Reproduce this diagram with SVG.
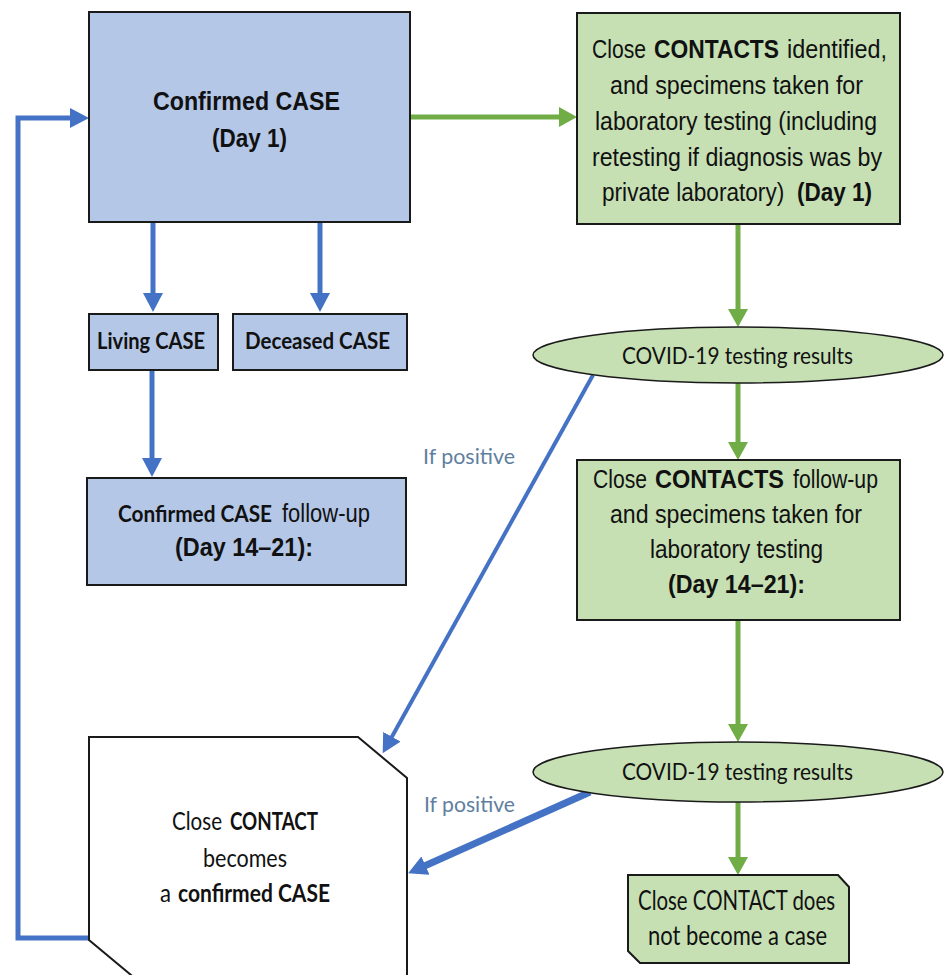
<svg xmlns="http://www.w3.org/2000/svg" width="944" height="975" viewBox="0 0 944 975">
<style>
.bbox{fill:#b4c7e7;stroke:#1a1a1a;stroke-width:2}
.gbox{fill:#c6e0b4;stroke:#1a1a1a;stroke-width:2}
.wbox{fill:#ffffff;stroke:#1a1a1a;stroke-width:2}
.ar{font-family:"Liberation Sans",Arial,sans-serif;font-size:26px;fill:#111}
.arb{font-family:"Liberation Sans",Arial,sans-serif;font-size:26px;font-weight:bold;fill:#111}
.ca{font-family:Lato,"Open Sans",sans-serif;font-size:25px;fill:#111}
.cab{font-family:Lato,"Open Sans",sans-serif;font-size:25px;font-weight:bold;fill:#111}
.lbl{font-family:Lato,"Open Sans",sans-serif;font-size:21px;fill:#5f7f9f}
.blue{fill:none;stroke:#4472c4;stroke-width:5}
.green{fill:none;stroke:#70ad47;stroke-width:5}
</style>
<defs>
<marker id="ab" markerUnits="userSpaceOnUse" markerWidth="20" markerHeight="20" refX="6" refY="10" orient="auto">
<path d="M0,0 L19,10 L0,20 z" fill="#4472c4"/>
</marker>
<marker id="ag" markerUnits="userSpaceOnUse" markerWidth="20" markerHeight="20" refX="6" refY="10" orient="auto">
<path d="M0,0 L18,10 L0,20 z" fill="#70ad47"/>
</marker>
</defs>
<rect width="944" height="975" fill="#ffffff"/>

<g id="connectors">
<path class="blue" d="M89,938 L18,938 L18,118 L76,118" marker-end="url(#ab)"/>
<line class="green" x1="410" y1="117" x2="565" y2="117" marker-end="url(#ag)"/>
<line class="blue" x1="153" y1="222" x2="153" y2="299" marker-end="url(#ab)"/>
<line class="blue" x1="320" y1="222" x2="320" y2="299" marker-end="url(#ab)"/>
<line class="blue" x1="152" y1="370" x2="152" y2="464" marker-end="url(#ab)"/>
<line class="green" x1="738" y1="224" x2="738" y2="315" marker-end="url(#ag)"/>
<line class="green" x1="738" y1="383" x2="738" y2="448" marker-end="url(#ag)"/>
<line class="green" x1="738" y1="620" x2="738" y2="730" marker-end="url(#ag)"/>
<line class="green" x1="738" y1="802" x2="738" y2="863" marker-end="url(#ag)"/>
<line class="blue" style="stroke-width:4" x1="593" y1="375" x2="389" y2="742" marker-end="url(#ab)"/>
<line class="blue" style="stroke-width:7" x1="590" y1="792" x2="420" y2="868" marker-end="url(#ab)"/>
<text class="lbl" x="423" y="464" textLength="92" lengthAdjust="spacingAndGlyphs">If positive</text>
<text class="lbl" x="424" y="812" textLength="91" lengthAdjust="spacingAndGlyphs">If positive</text>
</g>

<g id="confirmed-case">
<rect class="bbox" x="89" y="12" width="321" height="210"/>
<text class="arb" x="153" y="110" textLength="187" lengthAdjust="spacingAndGlyphs">Confirmed CASE</text>
<text class="arb" x="212" y="147" textLength="75" lengthAdjust="spacingAndGlyphs">(Day 1)</text>
</g>

<g id="contacts-identified">
<rect class="gbox" x="577" y="13" width="323" height="211"/>
<text class="ar" x="592" y="58" textLength="54" lengthAdjust="spacingAndGlyphs">Close</text>
<text class="arb" x="654" y="58" textLength="125" lengthAdjust="spacingAndGlyphs">CONTACTS</text>
<text class="ar" x="787" y="58" textLength="100" lengthAdjust="spacingAndGlyphs">identified,</text>
<text class="ar" x="610" y="94" textLength="253" lengthAdjust="spacingAndGlyphs">and specimens taken for</text>
<text class="ar" x="595" y="130" textLength="282" lengthAdjust="spacingAndGlyphs">laboratory testing (including</text>
<text class="ar" x="592" y="166" textLength="290" lengthAdjust="spacingAndGlyphs">retesting if diagnosis was by</text>
<text class="ar" transform="translate(602,201) scale(0.87,1)" x="0" y="0">private laboratory)</text>
<text class="arb" transform="translate(797,201) scale(0.865,1)" x="0" y="0">(Day 1)</text>
</g>

<g id="living-case">
<rect class="bbox" x="89" y="314" width="129" height="56"/>
<text class="cab" style="font-size:23px" x="97" y="349" textLength="108" lengthAdjust="spacingAndGlyphs">Living CASE</text>
</g>

<g id="deceased-case">
<rect class="bbox" x="233" y="314" width="174" height="56"/>
<text class="cab" style="font-size:23px" x="245" y="349" textLength="145" lengthAdjust="spacingAndGlyphs">Deceased CASE</text>
</g>

<g id="case-follow-up">
<rect class="bbox" x="87" y="478" width="319" height="107"/>
<text class="cab" style="font-size:23px" x="118" y="522" textLength="154" lengthAdjust="spacingAndGlyphs">Confirmed CASE</text>
<text class="ar" style="font-size:25px" x="282" y="522" textLength="88" lengthAdjust="spacingAndGlyphs">follow-up</text>
<text class="arb" x="175" y="556" textLength="138" lengthAdjust="spacingAndGlyphs">(Day 14–21):</text>
</g>

<g id="testing-results-1">
<ellipse cx="738" cy="355" rx="205" ry="28" fill="#c6e0b4" stroke="#1a1a1a" stroke-width="1.5"/>
<text class="ca" style="font-size:23px" x="622" y="364" textLength="231" lengthAdjust="spacingAndGlyphs">COVID-19 testing results</text>
</g>

<g id="contacts-follow-up">
<rect class="gbox" x="577" y="460" width="323" height="160"/>
<text class="ar" x="593" y="488" textLength="54" lengthAdjust="spacingAndGlyphs">Close</text>
<text class="arb" x="655" y="488" textLength="129" lengthAdjust="spacingAndGlyphs">CONTACTS</text>
<text class="ar" x="793" y="488" textLength="85" lengthAdjust="spacingAndGlyphs">follow-up</text>
<text class="ar" x="610" y="523" textLength="252" lengthAdjust="spacingAndGlyphs">and specimens taken for</text>
<text class="ar" x="650" y="558" textLength="173" lengthAdjust="spacingAndGlyphs">laboratory testing</text>
<text class="arb" x="668" y="593" textLength="137" lengthAdjust="spacingAndGlyphs">(Day 14–21):</text>
</g>

<g id="testing-results-2">
<ellipse cx="738" cy="772" rx="205" ry="30" fill="#c6e0b4" stroke="#1a1a1a" stroke-width="1.5"/>
<text class="ca" style="font-size:23px" x="622" y="780" textLength="231" lengthAdjust="spacingAndGlyphs">COVID-19 testing results</text>
</g>

<g id="becomes-case">
<path class="wbox" d="M89,737 L358,737 L407,778 L407,995 L155,995 L89,940 Z"/>
<text class="ca" x="172" y="830" textLength="50" lengthAdjust="spacingAndGlyphs">Close</text>
<text class="cab" x="230" y="830" textLength="88" lengthAdjust="spacingAndGlyphs">CONTACT</text>
<text class="ca" x="203" y="867" textLength="84" lengthAdjust="spacingAndGlyphs">becomes</text>
<text class="ca" x="160" y="902" textLength="11" lengthAdjust="spacingAndGlyphs">a</text>
<text class="cab" x="178" y="902" textLength="152" lengthAdjust="spacingAndGlyphs">confirmed CASE</text>
</g>

<g id="not-case">
<path class="gbox" d="M628,875 L838,875 L849,887 L849,963 L640,963 L628,951 Z"/>
<text class="ca" style="font-size:26px" x="638" y="910" textLength="197" lengthAdjust="spacingAndGlyphs">Close CONTACT does</text>
<text class="ca" style="font-size:26px" x="648" y="945" textLength="179" lengthAdjust="spacingAndGlyphs">not become a case</text>
</g>
</svg>
